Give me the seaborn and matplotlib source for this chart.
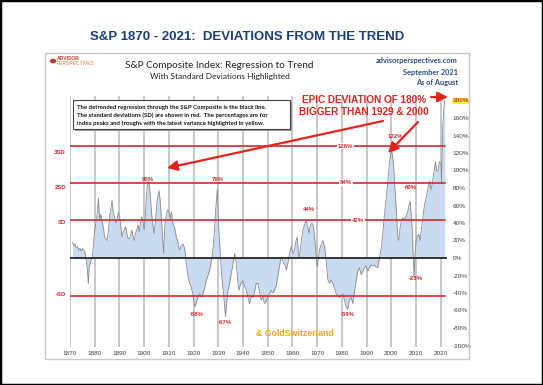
import matplotlib
matplotlib.use("Agg")
import matplotlib.pyplot as plt
import seaborn as sns
import numpy as np
import pandas as pd
from matplotlib.patches import Rectangle, Circle, FancyArrowPatch

sns.set_theme(style="white")
plt.rcParams['font.family'] = ['Liberation Sans', 'DejaVu Sans']

# ---------------- data ----------------
years = [1871.0, 1871.5, 1872.0, 1872.5, 1873.0, 1873.5, 1874.0, 1874.5, 1875.0, 1875.5,
         1876.0, 1876.5, 1877.0, 1877.4, 1877.8, 1878.5, 1879.0, 1879.5, 1880.0, 1880.5,
         1881.0, 1881.5, 1882.0, 1882.5, 1883.0, 1883.5, 1884.0, 1884.5, 1885.0, 1885.5,
         1886.0, 1886.5, 1887.0, 1887.5, 1888.0, 1888.5, 1889.0, 1889.5, 1890.0, 1890.5,
         1891.0, 1891.5, 1892.0, 1892.5, 1893.0, 1893.5, 1894.0, 1894.5, 1895.0, 1895.5,
         1896.0, 1896.5, 1897.0, 1897.5, 1898.0, 1898.5, 1899.0, 1899.5, 1900.0, 1900.5,
         1901.0, 1901.5, 1902.0, 1902.5, 1903.0, 1903.5, 1904.0, 1904.5, 1905.0, 1905.5,
         1906.0, 1906.5, 1907.0, 1907.5, 1907.9, 1908.3, 1909.0, 1909.5, 1910.0, 1910.5,
         1911.0, 1911.7, 1912.3, 1913.0, 1913.5, 1914.3, 1915.0, 1915.7, 1916.4, 1917.0,
         1917.7, 1918.4, 1919.0, 1919.7, 1920.4, 1921.0, 1921.7, 1922.4, 1923.1, 1923.8,
         1924.5, 1925.1, 1925.8, 1926.5, 1927.2, 1927.8, 1928.4, 1928.9, 1929.6, 1930.2,
         1930.7, 1931.2, 1931.7, 1932.1, 1932.9, 1933.4, 1933.9, 1934.5, 1935.2, 1935.9,
         1936.6, 1937.3, 1937.8, 1938.3, 1939.0, 1939.9, 1940.6, 1941.3, 1942.0, 1942.6,
         1943.3, 1944.0, 1944.7, 1945.3, 1946.0, 1946.7, 1947.3, 1948.0, 1948.7, 1949.3,
         1950.0, 1950.7, 1951.4, 1952.0, 1952.7, 1953.3, 1954.0, 1954.7, 1955.4, 1956.0,
         1956.5, 1957.0, 1957.5, 1958.2, 1958.8, 1959.5, 1960.2, 1960.8, 1961.3, 1961.9,
         1962.4, 1962.8, 1963.5, 1964.2, 1964.9, 1965.5, 1966.2, 1966.7, 1967.3, 1968.2,
         1968.7, 1969.2, 1969.7, 1970.0, 1970.5, 1970.9, 1971.6, 1972.3, 1973.0, 1973.6,
         1974.3, 1975.0, 1975.6, 1976.3, 1977.0, 1977.7, 1978.4, 1979.0, 1979.7, 1980.4,
         1981.0, 1981.7, 1982.3, 1983.0, 1983.7, 1984.4, 1985.0, 1985.7, 1986.4, 1987.1,
         1987.8, 1988.5, 1989.1, 1989.8, 1990.5, 1991.2, 1991.8, 1992.5, 1993.2, 1993.8,
         1994.5, 1995.2, 1995.9, 1996.6, 1997.2, 1997.8, 1998.3, 1998.8, 1999.2, 1999.7,
         2000.2, 2000.8, 2001.2, 2001.6, 2002.1, 2002.6, 2003.0, 2003.5, 2004.0, 2004.6,
         2005.1, 2005.7, 2006.2, 2006.6, 2007.1, 2007.6, 2008.0, 2008.4, 2008.8, 2009.2,
         2009.6, 2010.0, 2010.5, 2011.1, 2011.6, 2012.0, 2012.7, 2013.4, 2014.3, 2014.8,
         2015.4, 2016.0, 2016.5, 2017.2, 2017.8, 2018.3, 2018.8, 2019.4, 2020.1, 2020.3,
         2020.8, 2021.2, 2021.6]
deviation = [18, 14, 16, 12, 13, 9, 11, 8, 11, 9,
             7, -2, -12, -29, -10, -3, 1, 15, 32, 40,
             51, 68, 43, 50, 41, 35, 24, 22, 20, 30,
             47, 55, 66, 52, 47, 40, 43, 52, 49, 38,
             24, 30, 32, 36, 28, 22, 22, 26, 32, 25,
             20, 28, 32, 38, 30, 40, 47, 42, 32, 50,
             74, 88, 85, 70, 51, 38, 28, 40, 58, 70,
             77, 65, 43, 20, 5, 35, 50, 55, 53, 45,
             53, 39, 35, 24, 20, 9, 14, 16, 11, -6,
             -20, -29, -33, -41, -56, -52, -45, -41, -45, -41,
             -34, -26, -20, -14, -3, 9, 30, 54, 79, 32,
             10, -14, -30, -41, -67, -50, -37, -30, -18, -8,
             5, -6, -25, -37, -30, -26, -32, -37, -45, -52,
             -44, -45, -38, -29, -29, -38, -48, -45, -52, -50,
             -45, -40, -37, -40, -37, -33, -22, -10, 1, -3,
             -6, -8, -14, -5, 5, 13, 5, 9, 18, 24,
             5, 1, 18, 32, 38, 43, 35, 28, 39, 39,
             30, 16, 0, -10, 0, 9, 15, 20, 13, -3,
             -25, -29, -25, -29, -35, -41, -44, -45, -43, -41,
             -48, -56, -59, -48, -45, -52, -40, -27, -15, -11,
             -19, -15, -11, -9, -15, -10, -8, -9, -8, -10,
             -11, 0, 11, 30, 50, 65, 80, 95, 110, 118,
             122, 110, 90, 72, 50, 23, 20, 34, 42, 46,
             44, 46, 50, 53, 60, 65, 50, 34, 5, -23,
             5, 19, 25, 27, 20, 30, 45, 61, 72, 80,
             88, 78, 84, 98, 110, 100, 99, 110, 107, 85,
             152, 170, 180]

sd_levels = [128, 86, 43, -43]
sd_names = ["3SD", "2SD", "SD", "-SD"]
sd_pct = ["126%", "84%", "42%"]

peak_text = ["90%", "79%", "44%", "122%", "60%", "-58%", "-67%", "-59%", "-23%"]

xticks = list(range(1870, 2021, 10))
yticks = list(range(-100, 181, 20))

df = pd.DataFrame({"year": years, "dev": deviation})

# ---------------- figure ----------------
W, H = 543, 385
fig = plt.figure(figsize=(W / 100, H / 100), dpi=100)
fig.patch.set_facecolor("white")

def fx(px):
    return px / W

def fy(py):
    return 1 - py / H

fig.add_artist(Rectangle((0, 0), 1, 1, transform=fig.transFigure, fill=False,
                         edgecolor="black", linewidth=2.5))
fig.add_artist(Rectangle((fx(45), fy(359)), fx(469) - fx(45), fy(53) - fy(359),
                         transform=fig.transFigure, fill=False,
                         edgecolor="#c8c8c8", linewidth=1.0))

fig.text(fx(247), fy(37), "S&P 1870 - 2021:  DEVIATIONS FROM THE TREND",
         ha="center", va="center", fontsize=9.5, fontweight="bold", color="#1a3f7f")

# axes
x0, x1 = 1869.8, 2022.5
y0, y1 = -102, 185
ax_left, ax_right = 69.5, 447
ax_top = 258 - y1 * 0.875
ax_bot = 258 - y0 * 0.875
ax = fig.add_axes([fx(ax_left), fy(ax_bot), fx(ax_right) - fx(ax_left), fy(ax_top) - fy(ax_bot)])
ax.set_xlim(x0, x1)
ax.set_ylim(y0, y1)
ax.set_facecolor("none")

for xt in xticks:
    ax.axvline(xt, color="#b8b8b8", linewidth=1.1, zorder=0)

ax.fill_between(df["year"], df["dev"], 0, color="#c9dbf1", linewidth=0, zorder=1)
sns.lineplot(data=df, x="year", y="dev", ax=ax, color="#8a8a8a", linewidth=0.6, zorder=2)

ax.plot([1870, 2022.3], [0, 0], color="#333333", linewidth=1.4, zorder=3)
for lvl in sd_levels:
    ax.plot([1870, 2021.8], [lvl, lvl], color="#d8262c", linewidth=1.2, zorder=3)

for lvl, t, xx in zip(sd_levels[:3], sd_pct, [1981.5, 1981.5, 1986.5]):
    ax.text(xx, lvl, t, ha="center", va="center", fontsize=4.3, color="#d8262c",
            fontweight="bold", zorder=4,
            bbox=dict(boxstyle="square,pad=0.15", facecolor="white", edgecolor="none"))

for py, t in zip([152, 187, 222, 294], sd_names):
    fig.text(fx(66), fy(py), t, ha="right", va="center", fontsize=4.3,
             color="#d8262c", fontweight="bold")

# peak / trough labels (pixel positions)
label_px = [(148, 179), (218, 179), (309, 210), (395, 136), (411, 188),
            (197, 314), (225, 323), (348, 314), (416, 278)]
for (px, py), t in zip(label_px, peak_text):
    fig.text(fx(px), fy(py), t, ha="center", va="center", fontsize=4.3,
             color="#d8262c", fontweight="bold", zorder=4)

ax.yaxis.tick_right()
ax.set_yticks(yticks)
ax.set_yticklabels([f"{v}%" for v in yticks])
ax.set_xticks(xticks)
ax.set_xticklabels([str(v) for v in xticks])
ax.tick_params(axis="both", length=0, labelsize=4.6, labelcolor="#404040")
ax.tick_params(axis="y", pad=4)
ax.tick_params(axis="x", pad=3)
for lab in ax.get_yticklabels():
    if lab.get_text() == "180%":
        lab.set_color("#c0392b")
        lab.set_fontweight("bold")
        lab.set_bbox(dict(boxstyle="square,pad=0.1", facecolor="#ffee33", edgecolor="none"))
ax.set_xlabel("")
ax.set_ylabel("")
for s in ax.spines.values():
    s.set_visible(False)

fig.text(fx(219), fy(65), "S&P Composite Index: Regression to Trend", ha="center", va="center",
         fontsize=7.2, color="#222222", family=["Lato", "DejaVu Sans"])
fig.text(fx(220), fy(77), "With Standard Deviations Highlighted", ha="center", va="center",
         fontsize=6.0, color="#222222", family=["Lato", "DejaVu Sans"])

for py, t in zip([61, 72, 82], ["advisorperspectives.com", "September 2021", "As of August"]):
    fig.text(fx(458), fy(py), t, ha="right", va="center", fontsize=5.3, color="#2a4a8a",
             fontweight="bold", family=["Lato", "DejaVu Sans"])

fig.add_artist(Circle((fx(53), fy(61)), 0.006, transform=fig.transFigure,
                      facecolor="#c0392b", edgecolor="none"))
fig.text(fx(57), fy(58.5), "ADVISOR", ha="left", va="center", fontsize=3.6,
         color="#c0392b", fontweight="bold")
fig.text(fx(57), fy(63.5), "PERSPECTIVES", ha="left", va="center", fontsize=3.6,
         color="#e07b39")

bx0, by0, bx1, by1 = 73, 100, 290, 129
fig.add_artist(Rectangle((fx(bx0 + 2), fy(by1 + 2)), fx(bx1) - fx(bx0), fy(by0) - fy(by1),
                         transform=fig.transFigure, facecolor="#9a9a9a", edgecolor="none", zorder=5))
fig.add_artist(Rectangle((fx(bx0), fy(by1)), fx(bx1) - fx(bx0), fy(by0) - fy(by1),
                         transform=fig.transFigure, facecolor="white", edgecolor="#444444",
                         linewidth=0.8, zorder=6))
box_lines = ["The detrended regression through the S&P Composite is the black line.",
             "The standard deviations (SD) are shown in red.  The percentages are for",
             "index peaks and troughs with the latest variance highlighted in yellow."]
for py, t in zip([107, 115.5, 123.5], box_lines):
    fig.text(fx(77), fy(py), t, ha="left", va="center", fontsize=4.3, color="#111111",
             fontweight="bold", family=["Lato", "DejaVu Sans"], zorder=7)

fig.text(fx(364), fy(100), "EPIC DEVIATION OF 180%", ha="center", va="center",
         fontsize=7.2, color="#e8231e", fontweight="bold", zorder=8)
fig.text(fx(364), fy(112), "BIGGER THAN 1929 & 2000", ha="center", va="center",
         fontsize=7.2, color="#e8231e", fontweight="bold", zorder=8)

arrow_kw = dict(arrowstyle="-|>,head_length=0.6,head_width=0.3", color="#e8231e",
                linewidth=1.6, shrinkA=0, shrinkB=0)
for (sx, sy), (ex, ey) in [((431, 97), (448, 97)), ((418, 122), (388, 153)),
                           ((383, 121), (167, 168))]:
    fig.add_artist(FancyArrowPatch(
        (fx(sx), fy(sy)), (fx(ex), fy(ey)), transform=fig.transFigure,
        mutation_scale=10, zorder=8, **arrow_kw))

fig.text(fx(295), fy(333), "& GoldSwitzerland", ha="center", va="center", fontsize=6.3,
         color="#f5a800", fontweight="bold")

fig.savefig("out.png", dpi=100, facecolor="white")
